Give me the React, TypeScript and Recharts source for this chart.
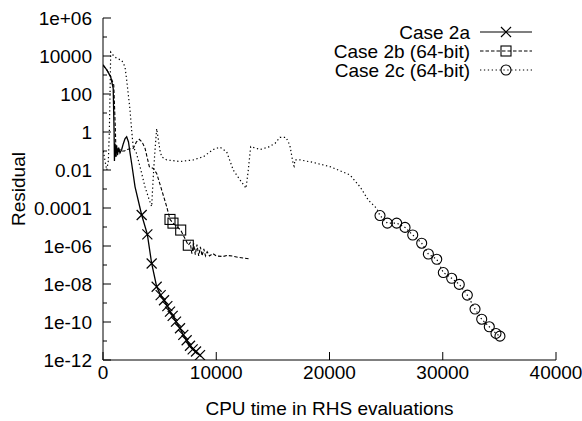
import { ComposedChart, Line, Scatter, XAxis, YAxis, Legend } from 'recharts';

const FONT = '"Liberation Sans", Arial, Helvetica, sans-serif';
const FS = 19;
const W = 582;
const H = 421;
const PLOT = { left: 103, top: 18, right: 556, bottom: 360 };

const xTicks = [0, 10000, 20000, 30000, 40000];
const yTicks = [1e-12, 1e-11, 1e-10, 1e-9, 1e-8, 1e-7, 1e-6, 1e-5, 1e-4, 1e-3, 1e-2, 1e-1, 1, 10, 100, 1000, 10000, 1e5, 1e6];
const yTickLabels = ['1e-12', '', '1e-10', '', '1e-08', '', '1e-06', '', '0.0001', '', '0.01', '', '1', '', '100', '', '10000', '', '1e+06'];

// Case 2a: solid line, crosses
const case2aLine: [number, number][] = [
  [0, 3400], [350, 1800], [680, 800], [900, 200], [980, 1], [1010, 0.03], [1060, 0.25], [1120, 0.05],
  [1200, 0.2], [1280, 0.06], [1380, 0.15], [1500, 0.08], [1650, 0.12], [1800, 0.25], [1950, 0.45],
  [2090, 0.56], [2250, 0.3], [2400, 0.07], [2530, 0.022], [2830, 0.0013],
];
const case2aMarks: [number, number][] = [
  [3415, 4.3e-5], [3916, 4.1e-6], [4297, 1.2e-7], [4739, 7.2e-9], [5092, 2.6e-9], [5386, 1.4e-9],
  [5681, 6.9e-10], [5916, 3.5e-10], [6152, 2.1e-10], [6446, 1.05e-10], [6799, 4.7e-11], [7093, 2.1e-11],
  [7387, 1.1e-11], [7682, 5.6e-12], [7917, 3.6e-12], [8212, 2.8e-12], [8565, 1.8e-12],
];

// Case 2b: dashed line, squares
const case2bLine: [number, number][] = [
  [0, 3400], [350, 1800], [680, 800], [950, 300], [1100, 1], [1150, 0.05], [1250, 0.15], [1350, 0.08],
  [1500, 0.12], [1700, 0.1], [1900, 0.1], [2100, 0.12], [2400, 0.13], [2680, 0.14], [2950, 0.3],
  [3205, 0.41], [3450, 0.3], [3709, 0.14], [4090, 0.015], [4440, 0.012], [4740, 0.0066], [5180, 0.0009],
  [5620, 0.00012],
];
const case2bMarks: [number, number][] = [
  [5916, 2.5e-5], [6180, 1.6e-5], [6861, 6.9e-6], [7532, 1.1e-6],
];
const case2bTail: [number, number][] = [
  [7700, 1.5e-6], [7850, 4e-7], [8000, 1.4e-6], [8150, 3.5e-7], [8300, 1.2e-6], [8450, 3e-7],
  [8600, 9e-7], [8750, 3e-7], [8900, 7e-7], [9050, 3e-7], [9200, 5e-7], [9400, 3e-7], [9700, 4e-7],
  [10000, 3e-7], [10600, 2.8e-7], [11000, 3.2e-7], [11500, 2.9e-7], [12000, 2.5e-7], [12980, 2.1e-7],
];

// Case 2c: dotted line, circles
const case2cLine: [number, number][] = [
  [30, 0.1], [180, 0.03], [330, 0.01], [470, 0.03], [560, 1], [620, 100], [680, 16000], [900, 11000],
  [1210, 7500], [1650, 6000], [1943, 2700], [2090, 550], [2384, 15], [2530, 1.2], [2680, 0.14],
  [2900, 0.1], [3267, 0.015], [3709, 0.0013], [4090, 0.00026], [4297, 0.00012], [4440, 0.0045],
  [4590, 0.11], [4740, 1.5], [5030, 0.11], [5180, 0.05], [5620, 0.034], [6800, 0.028], [7975, 0.034],
  [8860, 0.05], [9740, 0.12], [10330, 0.16], [10920, 0.09], [11500, 0.01], [12100, 0.003],
  [12630, 0.0011], [12830, 0.01], [13040, 0.17], [13860, 0.12], [14600, 0.16], [15190, 0.25],
  [15630, 0.52], [16160, 0.52], [16500, 0.2], [16800, 0.02], [16870, 0.016], [16950, 0.034],
  [17400, 0.034], [18570, 0.025], [20040, 0.015], [21810, 0.0055], [22700, 0.0013], [23430, 0.00026],
  [24170, 9.5e-5],
];
const case2cMarks: [number, number][] = [
  [24460, 4e-5], [25110, 1.6e-5], [25930, 1.6e-5], [26670, 9.5e-6], [27350, 3.8e-6], [28140, 1.4e-6],
  [28730, 3.8e-7], [29470, 2e-7], [30050, 4e-8], [30790, 2e-8], [31460, 9.5e-9], [32170, 2.6e-9],
  [32850, 4.8e-10], [33440, 1.4e-10], [34110, 5.6e-11], [34700, 2.5e-11], [35050, 1.8e-11],
];

const toPts = (arr: [number, number][]) => arr.map(([x, y]) => ({ x, y }));

const line2a = toPts([...case2aLine, ...case2aMarks]);
const line2b = toPts([...case2bLine, ...case2bMarks, ...case2bTail]);
const line2c = toPts([...case2cLine, ...case2cMarks]);

const DASH_2B = '3.5 2';
const DASH_2C = '1.3 2.6';

const Cross = ({ cx, cy }: any) => (
  <g stroke="#000" strokeWidth={1.2}>
    <line x1={cx - 5} y1={cy - 5} x2={cx + 5} y2={cy + 5} />
    <line x1={cx - 5} y1={cy + 5} x2={cx + 5} y2={cy - 5} />
  </g>
);
const Square = ({ cx, cy }: any) => (
  <rect x={cx - 5} y={cy - 5} width={10} height={10} fill="none" stroke="#000" strokeWidth={1.1} />
);
const Circle = ({ cx, cy }: any) => (
  <circle cx={cx} cy={cy} r={5} fill="none" stroke="#000" strokeWidth={1.1} />
);

const legendItems = [
  { name: 'Case 2a', dash: undefined, Mark: Cross },
  { name: 'Case 2b (64-bit)', dash: DASH_2B, Mark: Square },
  { name: 'Case 2c (64-bit)', dash: DASH_2C, Mark: Circle },
];

const LG = { left: 300, top: 20, width: 250, height: 64 };

const LegendBox = () => (
  <svg width={LG.width} height={LG.height} style={{ display: 'block' }}>
    {legendItems.map((it, i) => {
      const y = 32 + i * 19 - LG.top;
      const { Mark } = it;
      return (
        <g key={it.name}>
          <text x={470 - LG.left} y={y} dy="0.35em" textAnchor="end" fontFamily={FONT} fontSize={FS} fill="#000">
            {it.name}
          </text>
          <line x1={480 - LG.left} x2={532 - LG.left} y1={y} y2={y} stroke="#000" strokeWidth={1.2} strokeDasharray={it.dash} />
          <Mark cx={506 - LG.left} cy={y} />
        </g>
      );
    })}
  </svg>
);

const tickLabel = (v: number) => {
  const i = yTicks.findIndex((t) => Math.abs(Math.log10(t) - Math.log10(v)) < 1e-6);
  return i >= 0 ? yTickLabels[i] : '';
};

const LeftTick = ({ y, payload }: any) => {
  const label = tickLabel(payload.value);
  return (
    <g>
      <line x1={PLOT.left} x2={PLOT.left + (label ? 8 : 4)} y1={y} y2={y} stroke="#000" />
      {label && (
        <text x={PLOT.left - 11} y={y} dy="0.35em" textAnchor="end" fontFamily={FONT} fontSize={FS} fill="#000">
          {label}
        </text>
      )}
    </g>
  );
};
const RightTick = ({ y, payload }: any) => {
  const label = tickLabel(payload.value);
  return <line x1={PLOT.right - (label ? 8 : 4)} x2={PLOT.right} y1={y} y2={y} stroke="#000" />;
};
const BottomTick = ({ x, payload }: any) => (
  <g>
    <line x1={x} x2={x} y1={PLOT.bottom - 8} y2={PLOT.bottom} stroke="#000" />
    <text x={x} y={PLOT.bottom + 12} dy="0.35em" textAnchor="middle" fontFamily={FONT} fontSize={FS} fill="#000">
      {payload.value}
    </text>
  </g>
);
const TopTick = ({ x }: any) => <line x1={x} x2={x} y1={PLOT.top} y2={PLOT.top + 8} stroke="#000" />;

export default function App() {
  return (
    <div style={{ position: 'absolute', left: 0, top: 0, width: W, height: H, background: '#fff' }}>
      <ComposedChart
        width={W}
        height={H}
        margin={{ top: PLOT.top, right: W - PLOT.right, bottom: 0, left: 0 }}
      >
        <XAxis
          type="number"
          dataKey="x"
          domain={[0, 40000]}
          ticks={xTicks}
          allowDataOverflow
          height={H - PLOT.bottom}
          tickSize={0}
          tick={<BottomTick />}
          axisLine={{ stroke: '#000' }}
          label={{
            content: () => (
              <text x={(PLOT.left + PLOT.right) / 2} y={408} dy="0.35em" textAnchor="middle" fontFamily={FONT} fontSize={FS} fill="#000">
                CPU time in RHS evaluations
              </text>
            ),
          }}
        />
        <XAxis
          xAxisId="top"
          orientation="top"
          type="number"
          dataKey="x"
          domain={[0, 40000]}
          ticks={xTicks}
          allowDataOverflow
          height={0}
          tickSize={0}
          tick={<TopTick />}
          axisLine={{ stroke: '#000' }}
        />
        <YAxis
          type="number"
          scale="log"
          domain={[1e-12, 1e6]}
          ticks={yTicks}
          allowDataOverflow
          interval={0}
          width={PLOT.left}
          tickSize={0}
          tick={<LeftTick />}
          axisLine={{ stroke: '#000' }}
          label={{
            content: () => (
              <text
                x={18}
                y={(PLOT.top + PLOT.bottom) / 2}
                dy="0.35em"
                textAnchor="middle"
                transform={`rotate(-90 18 ${(PLOT.top + PLOT.bottom) / 2})`}
                fontFamily={FONT}
                fontSize={FS}
                fill="#000"
              >
                Residual
              </text>
            ),
          }}
        />
        <YAxis
          yAxisId="right"
          orientation="right"
          type="number"
          scale="log"
          domain={[1e-12, 1e6]}
          ticks={yTicks}
          allowDataOverflow
          interval={0}
          width={0}
          tickSize={0}
          tick={<RightTick />}
          axisLine={{ stroke: '#000' }}
        />
        <Legend
          layout="vertical"
          align="center"
          verticalAlign="middle"
          wrapperStyle={{ position: 'absolute', left: LG.left, top: LG.top, width: LG.width, height: LG.height }}
          content={() => <LegendBox />}
        />
        <Line data={line2a} dataKey="y" type="linear" stroke="#000" strokeWidth={1.3} dot={false} isAnimationActive={false} legendType="none" />
        <Line data={line2b} dataKey="y" type="linear" stroke="#000" strokeWidth={1.1} strokeDasharray={DASH_2B} dot={false} isAnimationActive={false} legendType="none" />
        <Line data={line2c} dataKey="y" type="linear" stroke="#000" strokeWidth={1.2} strokeDasharray={DASH_2C} dot={false} isAnimationActive={false} legendType="none" />
        <Scatter data={toPts(case2aMarks)} dataKey="y" shape={(p: any) => <Cross cx={p.cx} cy={p.cy} />} isAnimationActive={false} legendType="none" />
        <Scatter data={toPts(case2bMarks)} dataKey="y" shape={(p: any) => <Square cx={p.cx} cy={p.cy} />} isAnimationActive={false} legendType="none" />
        <Scatter data={toPts(case2cMarks)} dataKey="y" shape={(p: any) => <Circle cx={p.cx} cy={p.cy} />} isAnimationActive={false} legendType="none" />
      </ComposedChart>
    </div>
  );
}
